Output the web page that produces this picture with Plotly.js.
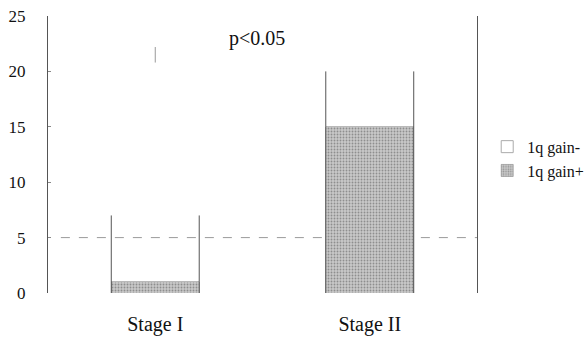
<!DOCTYPE html>
<html>
<head>
<meta charset="utf-8">
<script src="https://cdn.plot.ly/plotly-3.0.1.min.js"></script>
<style>html,body{margin:0;padding:0;background:#fff;}#chart{width:587px;height:337px;}</style>
</head>
<body>
<div id="chart"></div>
<script>
var categories = ["Stage I", "Stage II"];
var gainPos = [1, 15];
var gainNeg = [6, 5];
var yTicks = [0, 5, 10, 15, 20, 25];
var pLabel = "p<0.05";

var xs = categories.map(function(_, i){ return i; });
var totals = gainPos.map(function(v, i){ return v + gainNeg[i]; });
var barW = 0.41;

// side outline lines for the open (gain-) stacks
var sx = [], sy = [];
xs.forEach(function(x, i){
  sx.push(x - barW/2, x - barW/2, null, x + barW/2, x + barW/2, null);
  sy.push(0, totals[i], null, 0, totals[i], null);
});

var font = "'Liberation Serif', 'Times New Roman', serif";

var traces = [
  {type:"bar", x:xs, y:gainPos, width:barW, name:"1q gain+",
   marker:{color:"#bdbdbd", line:{color:"#8a8a8a", width:0.6},
           pattern:{shape:".", fgcolor:"#8e8e8e", bgcolor:"#c9c9c9", size:3, solidity:0.3}}},
  {type:"bar", x:xs, y:gainNeg, width:barW, name:"1q gain-", showlegend:false,
   marker:{color:"rgba(255,255,255,0)", line:{width:0}}},
  {type:"bar", x:[null], y:[null], name:"1q gain-",
   marker:{color:"#ffffff", line:{color:"#aaaaaa", width:1}}},
  {type:"scatter", mode:"lines", x:sx, y:sy, showlegend:false, hoverinfo:"skip",
   line:{color:"#555555", width:1}}
];

var layout = {
  width:587, height:337,
  margin:{l:48, r:110, t:16, b:44},
  paper_bgcolor:"#fff", plot_bgcolor:"#fff",
  barmode:"stack",
  showlegend:true,
  font:{family:font, color:"#111", size:16},
  xaxis:{range:[-0.5,1.5], tickvals:xs, ticktext:categories, showgrid:false, zeroline:false,
         showline:false, ticks:"", tickfont:{family:font, size:20}, ticklabelstandoff:17},
  yaxis:{range:[0,25], tickvals:yTicks, showgrid:false, zeroline:false, showline:true, mirror:true,
         linecolor:"#555", linewidth:1, ticks:"inside", ticklen:3, tickcolor:"#888",
         tickfont:{family:font, size:17}, ticklabelstandoff:18},
  legend:{xref:"container", yref:"container", x:0.83, xanchor:"left", y:0.615, yanchor:"top",
          font:{family:font, size:16}, bgcolor:"rgba(0,0,0,0)", tracegroupgap:4},
  annotations:[{x:0.474, y:22.95, xref:"x", yref:"y", text:pLabel, showarrow:false,
                font:{family:font, size:20, color:"#111"}}],
  shapes:[
    {type:"line", xref:"paper", yref:"y", x0:0.03, x1:1, y0:5, y1:5,
     line:{color:"#9a9a9a", width:1, dash:"dash"}, layer:"below"},
    {type:"line", xref:"x", yref:"y", x0:0.0, x1:0.0, y0:20.8, y1:22.2,
     line:{color:"#999", width:1}}
  ]
};

Plotly.newPlot("chart", traces, layout, {displayModeBar:false, staticPlot:true});
</script>
</body>
</html>
